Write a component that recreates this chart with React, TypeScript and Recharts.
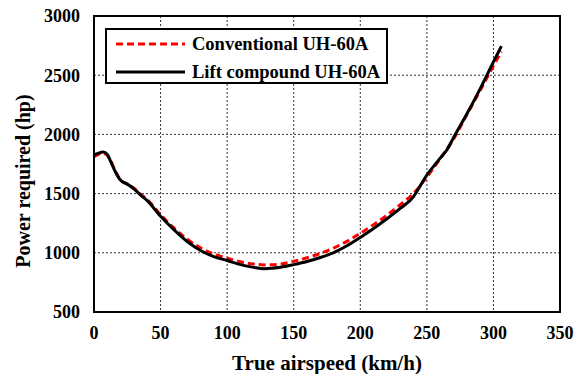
import React from "react";
import { LineChart, Line, XAxis, YAxis, CartesianGrid, ReferenceArea } from "recharts";

const conventionalSpeed = [0, 3, 6, 9, 12, 16, 20, 25, 30, 35, 40, 50, 60, 70, 80, 90, 100, 110, 120, 128, 140, 150, 160, 170, 180, 190, 200, 210, 220, 230, 240, 250, 260, 270, 280, 290, 300, 306];
const conventionalPower = [1812, 1830, 1842, 1832, 1790, 1690, 1615, 1582, 1545, 1495, 1450, 1322, 1210, 1115, 1042, 990, 955, 925, 905, 898, 905, 928, 958, 995, 1040, 1097, 1165, 1238, 1318, 1406, 1502, 1640, 1795, 1960, 2165, 2370, 2580, 2700];

const compoundSpeed = [0, 3, 7, 10, 12, 16, 20, 25, 30, 35, 40, 50, 60, 70, 80, 90, 100, 110, 120, 128, 140, 150, 160, 170, 180, 190, 200, 210, 220, 230, 240, 245, 250, 255, 260, 265, 270, 280, 290, 300, 306];
const compoundPower = [1826, 1840, 1851, 1830, 1785, 1685, 1612, 1580, 1540, 1488, 1440, 1308, 1195, 1095, 1020, 968, 935, 900, 877, 866, 878, 900, 926, 960, 1002, 1060, 1130, 1205, 1287, 1375, 1475, 1565, 1657, 1730, 1800, 1868, 1972, 2172, 2385, 2612, 2745];

const xTicks = [0, 50, 100, 150, 200, 250, 300, 350];
const yTicks = [500, 1000, 1500, 2000, 2500, 3000];

const seriesNames = ["Conventional UH-60A", "Lift compound UH-60A"];
const seriesColors = ["#ff0000", "#000000"];
const seriesDash = ["7 4", undefined];

const conventionalData = conventionalSpeed.map((s, i) => ({ speed: s, power: conventionalPower[i] }));
const compoundData = compoundSpeed.map((s, i) => ({ speed: s, power: compoundPower[i] }));

const FONT = "'Liberation Serif', 'Times New Roman', serif";
const yTitle = "Power required (hp)";
const xTitle = "True airspeed (km/h)";

const LegendBox = () => (
  <div style={{ position: "absolute", left: 105, top: 28, width: 279, height: 52, border: "2px solid #000", background: "#fff", fontFamily: FONT, fontWeight: "bold", fontSize: 18.5 }}>
    {seriesNames.map((name, i) => (
      <div key={i} style={{ position: "absolute", left: 8, top: 4 + i * 28, height: 20, display: "flex", alignItems: "center" }}>
        <svg width={72} height={10} style={{ marginRight: 5 }}>
          <line x1={1} y1={5} x2={70} y2={5} stroke={seriesColors[i]} strokeWidth={3} strokeDasharray={seriesDash[i]} />
        </svg>
        <span style={{ color: "#000", whiteSpace: "nowrap" }}>{name}</span>
      </div>
    ))}
  </div>
);

const YTitle = () => (
  <text x={23} y={181} transform="rotate(-90, 23, 181)" textAnchor="middle" dominantBaseline="central" fill="#000" fontFamily={FONT} fontWeight="bold" fontSize={20}>
    {yTitle}
  </text>
);

export default function App() {
  return (
    <div style={{ position: "absolute", left: 0, top: 0, width: 578, height: 374, background: "#fff" }}>
      <LineChart width={578} height={374} margin={{ top: 16, right: 18, left: 0, bottom: 0 }}>
        <CartesianGrid xAxisId="main" yAxisId="main" stroke="#333" strokeDasharray="2 2" strokeWidth={1} />
        <XAxis
          xAxisId="main"
          type="number"
          dataKey="speed"
          domain={[0, 350]}
          ticks={xTicks}
          allowDataOverflow
          tickLine={false}
          tickSize={0}
          tickMargin={14}
          height={62}
          axisLine={{ stroke: "#000", strokeWidth: 2 }}
          tick={{ fill: "#000", fontFamily: FONT, fontWeight: "bold", fontSize: 18 }}
          label={{ value: xTitle, position: "insideBottom", offset: 4, fill: "#000", fontFamily: FONT, fontWeight: "bold", fontSize: 21 }}
        />
        <YAxis
          yAxisId="main"
          type="number"
          domain={[500, 3000]}
          ticks={yTicks}
          allowDataOverflow
          tickLine={false}
          tickSize={0}
          tickMargin={14}
          width={94}
          axisLine={{ stroke: "#000", strokeWidth: 2 }}
          tick={{ fill: "#000", fontFamily: FONT, fontWeight: "bold", fontSize: 18 }}
          label={{ content: () => <YTitle /> }}
        />
        <ReferenceArea xAxisId="main" yAxisId="main" x1={0} x2={350} y1={500} y2={3000} fill="none" fillOpacity={0} stroke="#000" strokeWidth={2} ifOverflow="visible" />
        <Line
          xAxisId="main"
          yAxisId="main"
          data={conventionalData}
          dataKey="power"
          name={seriesNames[0]}
          type="monotone"
          stroke={seriesColors[0]}
          strokeWidth={3}
          strokeDasharray={seriesDash[0]}
          dot={false}
          isAnimationActive={false}
        />
        <Line
          xAxisId="main"
          yAxisId="main"
          data={compoundData}
          dataKey="power"
          name={seriesNames[1]}
          type="monotone"
          stroke={seriesColors[1]}
          strokeWidth={3}
          dot={false}
          isAnimationActive={false}
        />
      </LineChart>
      <LegendBox />
    </div>
  );
}
